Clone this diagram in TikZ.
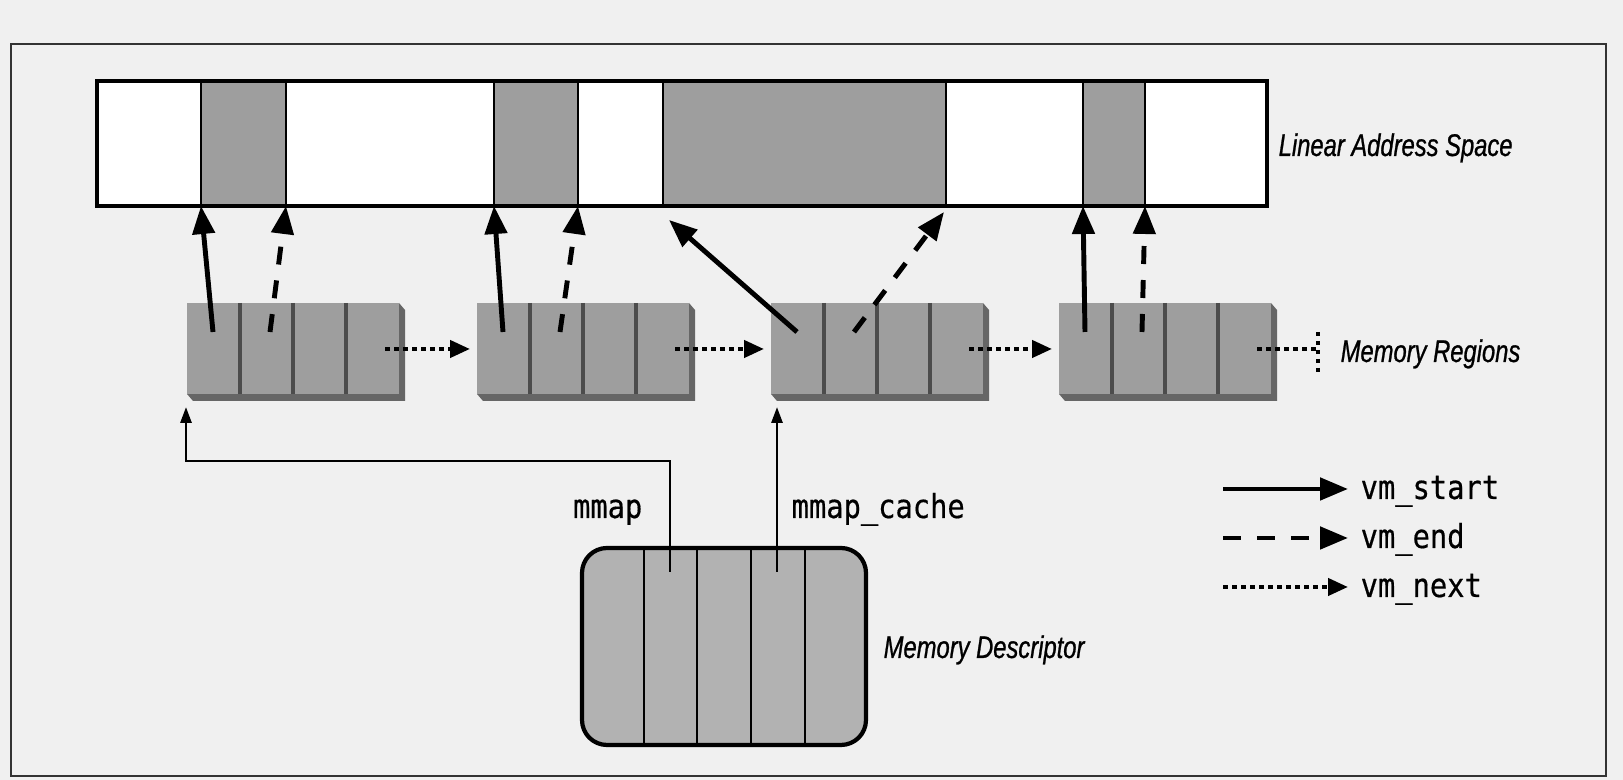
\documentclass[tikz,border=0pt]{standalone}
\usepackage{fontspec}
\newfontfamily\labelfont[FakeStretch=0.76, FakeBold=0.8]{Liberation Sans}
\newfontfamily\fieldfont[FakeStretch=0.87, FakeBold=0.5]{DejaVu Sans Mono}
\usetikzlibrary{arrows.meta, calc}

\definecolor{paper}{gray}{0.94}
\definecolor{slab}{gray}{0.62}
\definecolor{slabside}{gray}{0.40}
\definecolor{descfill}{gray}{0.70}

\tikzset{
  startptr/.style={line width=1.4pt, -{Triangle[length=2.8mm, width=2.2mm]}},
  endptr/.style={startptr, dash pattern=on 1.8mm off 1.6mm},
  nextline/.style={line width=1.2pt, dash pattern=on 0.45mm off 0.45mm},
  nextptr/.style={nextline, -{Triangle[length=2mm, width=1.7mm]}},
  thinptr/.style={line width=0.8pt, -{Triangle[length=1.6mm, width=1.1mm]}},
  fieldtext/.style={font=\fieldfont\fontsize{9.4}{11}\selectfont, inner sep=0pt},
  captext/.style={font=\labelfont\itshape\fontsize{8.9}{10}\selectfont, inner sep=0pt},
}

\begin{document}
\begin{tikzpicture}[x=0.1mm, y=-0.1mm]
  \useasboundingbox[fill=paper] (0,0) rectangle (1623,780);
  \draw[line width=0.8pt, black!80] (11,44) rectangle (1606,776);

  % ── Linear address space with four mapped intervals ───────────────
  \fill[white] (97,81) rectangle (1267,206);
  \foreach \a/\b [count=\i] in {201/286, 494/578, 663/946, 1083/1145} {
    \draw[line width=0.8pt, fill=slab] (\a,81) rectangle (\b,206);
    \coordinate (seg\i-l) at (\a,206);
    \coordinate (seg\i-r) at (\b,206);
  }
  \draw[line width=1pt] (97,81) rectangle (1267,206);
  \node[captext, anchor=base west] (las) at (1278,156) {Linear Address Space};

  % ── Memory regions (four fields each, drawn as slabs) ─────────────
  \foreach \x [count=\i] in {187, 477, 771, 1059} {
    \fill[slabside] (\x,394) -- (\x+6,401) -- (\x+218,401) -- (\x+218,310)
      -- (\x+212,303) -- (\x+212,394) -- cycle;
    \fill[slab] (\x,303) rectangle (\x+212,394);
    \foreach \c in {1,2,3}
      \draw[line width=0.9pt, black!70] (\x+53*\c,303) -- (\x+53*\c,394);
    \coordinate (r\i-start) at (\x+26,332);
    \coordinate (r\i-end)   at (\x+83,332);
    \coordinate (r\i-next)  at (\x+198,349);
    \coordinate (r\i-in)    at (\x-7,349);
    \coordinate (r\i-foot)  at (\x-1,407);
  }
  \node[captext, anchor=base west] (mrlabel) at (1340,362) {Memory Regions};

  % vm_start / vm_end pointers
  \draw[startptr] (r1-start) -- (seg1-l);
  \draw[endptr]   (r1-end)   -- (seg1-r);
  \draw[startptr] (r2-start) -- (seg2-l);
  \draw[endptr]   (r2-end)   -- (seg2-r);
  \draw[startptr] (r3-start) -- ($(seg3-l)+(6,14)$);
  \draw[endptr]   (r3-end)   -- ($(seg3-r)+(-2,6)$);
  \draw[startptr] (r4-start) -- (seg4-l);
  \draw[endptr]   (r4-end)   -- (seg4-r);

  % vm_next chain, ending in a null bar
  \foreach \i/\j in {1/2, 2/3, 3/4}
    \draw[nextptr] (r\i-next) -- (r\j-in);
  \coordinate (nil) at (1318,349);
  \draw[nextline] (r4-next) -- (nil);
  \draw[nextline] ($(nil)+(0,-17)$) -- ($(nil)+(0,23)$);

  % ── Memory descriptor ─────────────────────────────────────────────
  \draw[line width=1.2pt, fill=descfill, rounded corners=2.5mm]
    (582,548) rectangle (866,745);
  \foreach \x in {644, 697, 751, 805}
    \draw[line width=0.8pt] (\x,548) -- (\x,745);
  \coordinate (md-mmap)  at (670,572);
  \coordinate (md-cache) at (777,572);
  \coordinate (mmap-bend) at (186,461);
  \node[captext, anchor=base west] (mdlabel) at (883,658) {Memory Descriptor};

  \draw[thinptr] (md-mmap) |- (mmap-bend) -- (r1-foot);
  \draw[thinptr] (md-cache) -- (md-cache |- r3-foot);
  \node[fieldtext, anchor=base east] (mmaplbl)  at (643,518) {mmap};
  \node[fieldtext, anchor=base west] (cachelbl) at (791,518) {mmap\_cache};

  % ── Legend ────────────────────────────────────────────────────────
  \foreach \sty/\txt/\y in {startptr/vm\_start/489, endptr/vm\_end/538, nextptr/vm\_next/587} {
    \coordinate (key-\y) at (1223,\y);
    \node[fieldtext, anchor=base west] (lbl-\y) at (1360,\y+10) {\txt};
    \draw[\sty, shorten >=1.2mm] (key-\y) -- (lbl-\y.west |- key-\y);
  }
\end{tikzpicture}
\end{document}
